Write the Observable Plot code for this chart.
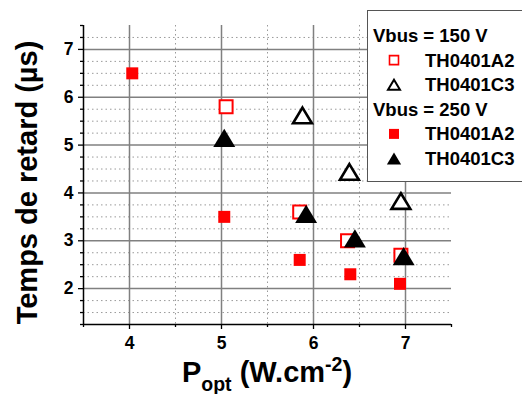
<!DOCTYPE html>
<html>
<head>
<meta charset="utf-8">
<script src="https://cdn.jsdelivr.net/npm/d3@7"></script>
<script src="https://cdn.jsdelivr.net/npm/@observablehq/plot@0.6"></script>
<style>
  html, body { margin: 0; padding: 0; background: #fff; }
  #chart { width: 522px; height: 394px; position: relative; }
</style>
</head>
<body>
<div id="chart"></div>
<script>
// ---- data ----
const xA2_150 = [5.05, 5.85, 6.37, 6.95];
const yA2_150 = [5.80, 3.60, 3.00, 2.70];
const xC3_150 = [5.88, 6.39, 6.95];
const yC3_150 = [5.62, 4.44, 3.83];
const xA2_250 = [4.03, 5.03, 5.85, 6.40, 6.94];
const yA2_250 = [6.50, 3.50, 2.60, 2.30, 2.10];
const xC3_250 = [5.03, 5.92, 6.45, 6.98];
const yC3_250 = [5.15, 3.56, 3.05, 2.68];

const xTicks = [4, 5, 6, 7];
const yTicks = [2, 3, 4, 5, 6, 7];
const xMinorTicks = [3.5, 4.5, 5.5, 6.5, 7.5];
const yMinorTicks = [1.25,1.5,1.75,2.25,2.5,2.75,3.25,3.5,3.75,4.25,4.5,4.75,5.25,5.5,5.75,6.25,6.5,6.75,7.25,7.5];
const xDotGrid = [4.5, 5.5, 6.5];
const yDotGrid = [1.5,1.75,2.25,2.5,2.75,3.25,3.5,3.75,4.25,4.5,4.75,5.25,5.5,5.75,6.25,6.5,6.75,7.25];

const xLabel = ["P", "opt", " (W.cm", "-2", ")"];
const yLabel = "Temps de retard (µs)";
const legendHeaders = ["Vbus = 150 V", "Vbus = 250 V"];
const legendNames = ["TH0401A2", "TH0401C3"];

const toPts = (xs, ys) => xs.map((x, i) => ({x, y: ys[i]}));

// bbox-centred triangle (as in Origin)
const triangle = {
  draw(ctx, size) {
    const s = Math.sqrt(size / 0.433);
    const h = s * 0.83;
    ctx.moveTo(0, -h / 2);
    ctx.lineTo(s / 2, h / 2);
    ctx.lineTo(-s / 2, h / 2);
    ctx.closePath();
  }
};

const FONT = "'Liberation Sans', Arial, sans-serif";
const red = "#ff0000";

const chart = Plot.plot({
  width: 522,
  height: 394,
  marginLeft: 83,
  marginRight: 71,
  marginTop: 25,
  marginBottom: 70,
  style: {fontFamily: FONT, fontWeight: "bold", color: "#000", background: "#fff"},
  x: {domain: [3.5, 7.5], axis: null},
  y: {domain: [1.25, 7.5], axis: null},
  marks: [
    Plot.ruleX(xDotGrid, {stroke: "#9a9a9a", strokeWidth: 1, strokeDasharray: "1.5,3"}),
    Plot.ruleY(yDotGrid, {stroke: "#9a9a9a", strokeWidth: 1, strokeDasharray: "1.5,3"}),
    Plot.ruleX(xTicks, {stroke: "#808080", strokeWidth: 1.5}),
    Plot.ruleY(yTicks, {stroke: "#808080", strokeWidth: 1.5}),
    Plot.axisX(xMinorTicks, {label: null, tickSize: 3, tickFormat: () => "", stroke: "#000", strokeWidth: 1.3}),
    Plot.axisY(yMinorTicks, {label: null, tickSize: 3, tickFormat: () => "", stroke: "#000", strokeWidth: 1.3}),
    Plot.axisX(xTicks, {label: null, tickSize: 5, tickPadding: 7, fontSize: 17.5, fontWeight: "bold", stroke: "#000", strokeWidth: 1.3, tickFormat: d => String(d)}),
    Plot.axisY(yTicks, {label: null, tickSize: 5, tickPadding: 5, fontSize: 17.5, fontWeight: "bold", stroke: "#000", strokeWidth: 1.3, tickFormat: d => String(d)}),
    Plot.ruleX([3.5], {stroke: "#000", strokeWidth: 1.5}),
    Plot.ruleY([1.25], {stroke: "#000", strokeWidth: 1.5}),
    Plot.dot(toPts(xA2_150, yA2_150), {x: "x", y: "y", symbol: "square", r: 7.33, fill: "#fff", stroke: red, strokeWidth: 2}),
    Plot.dot(toPts(xC3_150, yC3_150), {x: "x", y: "y", symbol: triangle, r: 7.0, fill: "#fff", stroke: "#000", strokeWidth: 2.6, strokeLinejoin: "miter"}),
    Plot.dot(toPts(xA2_250, yA2_250), {x: "x", y: "y", symbol: "square", r: 6.77, fill: red, stroke: "none"}),
    Plot.dot(toPts(xC3_250, yC3_250), {x: "x", y: "y", symbol: triangle, r: 8.16, fill: "#000", stroke: "none"})
  ]
});

document.getElementById("chart").appendChild(chart);

const svg = d3.select(chart);

// axis titles
const xt = svg.append("text")
  .attr("x", 267).attr("y", 382)
  .attr("text-anchor", "middle")
  .attr("font-family", FONT).attr("font-weight", "bold")
  .attr("font-size", 29).attr("fill", "#000");
xt.append("tspan").text(xLabel[0]);
xt.append("tspan").attr("font-size", 19.5).attr("dy", 9).text(xLabel[1]);
xt.append("tspan").attr("font-size", 29).attr("dy", -9).text(xLabel[2]);
xt.append("tspan").attr("font-size", 19.5).attr("dy", -11).text(xLabel[3]);
xt.append("tspan").attr("font-size", 29).attr("dy", 11).text(xLabel[4]);

svg.append("text")
  .attr("transform", "translate(37,182.5) rotate(-90)")
  .attr("text-anchor", "middle")
  .attr("font-family", FONT).attr("font-weight", "bold")
  .attr("font-size", 29).attr("fill", "#000")
  .text(yLabel);

// legend
const lg = svg.append("g").attr("text-anchor", "start");
lg.append("rect")
  .attr("x", 367.5).attr("y", 10.5).attr("width", 200).attr("height", 171)
  .attr("fill", "#fff").attr("stroke", "#555").attr("stroke-width", 1);

const rowY = i => 42 + i * 24.6;
const symX = 394, txtX = 425;
const legendRows = [
  {head: legendHeaders[0]},
  {name: legendNames[0], sym: d3.symbolSquare, size: 81, fill: "#fff", stroke: red, sw: 1.6},
  {name: legendNames[1], sym: triangle, size: 62, fill: "#fff", stroke: "#000", sw: 2},
  {head: legendHeaders[1]},
  {name: legendNames[0], sym: d3.symbolSquare, size: 100, fill: red, stroke: "none", sw: 0},
  {name: legendNames[1], sym: triangle, size: 88, fill: "#000", stroke: "none", sw: 0}
];
legendRows.forEach((r, i) => {
  const y = rowY(i);
  if (r.head) {
    lg.append("text").attr("x", 373).attr("y", y).attr("text-anchor", "start")
      .attr("font-family", FONT).attr("font-weight", "bold").attr("font-size", 18.5)
      .attr("fill", "#000").text(r.head);
  } else {
    lg.append("path")
      .attr("transform", `translate(${symX},${y - 6.5})`)
      .attr("d", d3.symbol(r.sym, r.size)())
      .attr("fill", r.fill).attr("stroke", r.stroke).attr("stroke-width", r.sw);
    lg.append("text").attr("x", txtX).attr("y", y).attr("text-anchor", "start")
      .attr("font-family", FONT).attr("font-weight", "bold").attr("font-size", 18.5)
      .attr("fill", "#000").text(r.name);
  }
});
</script>
</body>
</html>
